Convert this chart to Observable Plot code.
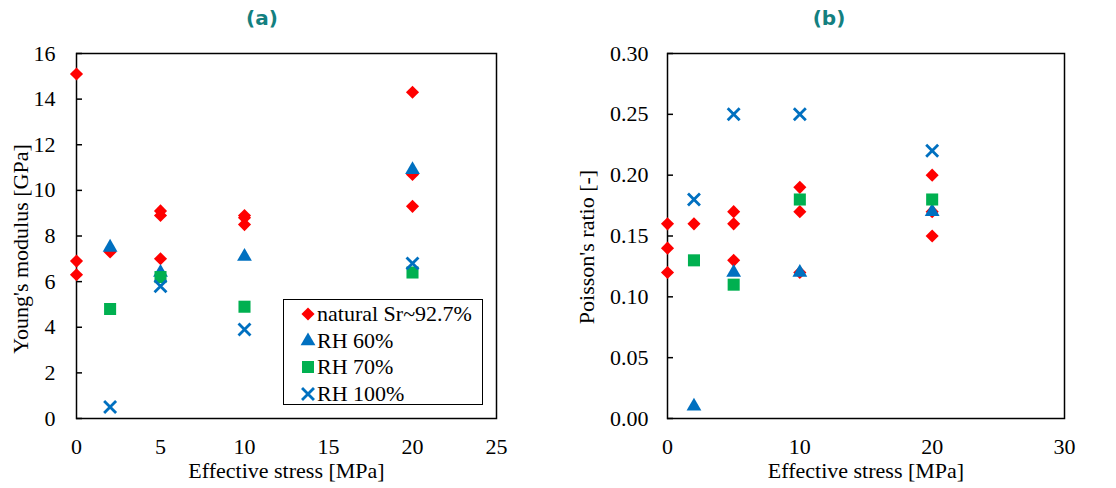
<!DOCTYPE html>
<html>
<head>
<meta charset="utf-8">
<script src="https://cdn.jsdelivr.net/npm/d3@7"></script>
<script src="https://cdn.jsdelivr.net/npm/@observablehq/plot@0.6"></script>
<style>
  body { margin: 0; background: #fff; }
  #wrap { position: relative; width: 1116px; height: 488px; overflow: hidden; }
  .title { position: absolute; top: 6px; font: bold 20px "DejaVu Sans", sans-serif; color: #138080; transform: translateX(-50%); }
  .panel { position: absolute; top: 40px; }
  #legend { position: absolute; left: 283px; top: 299px; width: 198px; height: 104px; border: 1.5px solid #000; background: #fff; }
  .row { position: absolute; left: 0; height: 26px; display: flex; align-items: center; font: 22px "Liberation Serif", serif; color: #000; white-space: nowrap; }
  .row svg { margin-left: 15px; margin-right: 0px; }
</style>
</head>
<body>
<div id="wrap">
  <div class="title" style="left:262px">(a)</div>
  <div class="title" style="left:829px">(b)</div>
  <div class="panel" id="pa" style="left:0px"></div>
  <div class="panel" id="pb" style="left:558px"></div>
  <div id="legend"></div>
</div>
<script>
// ---- data ----
const seriesNames = ["natural Sr~92.7%", "RH 60%", "RH 70%", "RH 100%"];
const stressNatural = [0, 0, 0, 2, 5, 5, 5, 10, 10, 10, 20, 20, 20];
const youngNatural = [15.1, 6.9, 6.3, 7.3, 9.1, 8.9, 7.0, 8.9, 8.8, 8.5, 14.3, 10.7, 9.3];
const poissonNatural = [0.16, 0.14, 0.12, 0.16, 0.17, 0.16, 0.13, 0.19, 0.17, 0.12, 0.20, 0.17, 0.15];
const stressRH = [2, 5, 10, 20];
const youngRH60 = [7.5, 6.4, 7.1, 10.9];
const poissonRH60 = [0.01, 0.12, 0.12, 0.17];
const youngRH70 = [4.8, 6.2, 4.9, 6.4];
const poissonRH70 = [0.13, 0.11, 0.18, 0.18];
const youngRH100 = [0.5, 5.8, 3.9, 6.8];
const poissonRH100 = [0.18, 0.25, 0.25, 0.22];
const xTicksA = [0, 5, 10, 15, 20, 25];
const yTicksA = [0, 2, 4, 6, 8, 10, 12, 14, 16];
const xTicksB = [0, 10, 20, 30];
const yTicksB = [0, 0.05, 0.10, 0.15, 0.20, 0.25, 0.30];

// ---- styles ----
const styles = [
  {symbol: "diamond2", fill: "#FF0000", r: 5.9},
  {symbol: "triangle", fill: "#0070C0", r: 5.5},
  {symbol: "square", fill: "#00B050", r: 6.8},
  {symbol: "times", stroke: "#0070C0", fill: "none", r: 5.5, strokeWidth: 2.8}
];

const zip = (xs, ys) => xs.map((x, i) => ({x, y: ys[i]}));

function panel({series, xDomain, xTicks, yDomain, yTicks, yFormat, yLabel, marginLeft, marginRight, tickPad, ylabDx, ylabDy}) {
  return Plot.plot({
    width: 558, height: 448,
    marginLeft, marginRight, marginTop: 13, marginBottom: 70,
    style: {fontFamily: "'Liberation Serif', serif", fontSize: "22px", color: "#000", background: "transparent", overflow: "visible"},
    x: {domain: xDomain},
    y: {domain: yDomain},
    marks: [
      Plot.axisX({ticks: xTicks, tickSize: 0, tickPadding: 20, label: null, fontSize: 22}),
      Plot.axisY({ticks: yTicks, tickSize: -6, tickPadding: tickPad, tickFormat: yFormat, label: null, strokeWidth: 1.5, fontSize: 22}),
      Plot.frame({stroke: "#000", strokeWidth: 1.5}),
      ...series.map((d, i) => Plot.dot(d, {x: "x", y: "y", ...styles[i]})),
      Plot.text(["Effective stress [MPa]"], {frameAnchor: "bottom", lineAnchor: "middle", textAnchor: "middle", dy: 52, fontSize: 22}),
      Plot.text([yLabel], {frameAnchor: "left", lineAnchor: "middle", textAnchor: "middle", rotate: -90, dx: ylabDx, dy: ylabDy, fontSize: 22})
    ]
  });
}

document.getElementById("pa").append(panel({
  series: [zip(stressNatural, youngNatural), zip(stressRH, youngRH60), zip(stressRH, youngRH70), zip(stressRH, youngRH100)],
  xDomain: [0, 25], xTicks: xTicksA, yDomain: [0, 16], yTicks: yTicksA, yFormat: d3.format("d"),
  yLabel: "Young's modulus [GPa]", marginLeft: 76, marginRight: 62, tickPad: 27, ylabDx: -56, ylabDy: 13
}));
document.getElementById("pb").append(panel({
  series: [zip(stressNatural, poissonNatural), zip(stressRH, poissonRH60), zip(stressRH, poissonRH70), zip(stressRH, poissonRH100)],
  xDomain: [0, 30], xTicks: xTicksB, yDomain: [0, 0.30], yTicks: yTicksB, yFormat: d3.format(".2f"),
  yLabel: "Poisson's ratio [-]", marginLeft: 109, marginRight: 52, tickPad: 25, ylabDx: -81, ylabDy: 11
}));

// ---- legend ----
const legend = document.getElementById("legend");
const symbolMap = {diamond2: d3.symbolDiamond2, triangle: d3.symbolTriangle, square: d3.symbolSquare, times: d3.symbolTimes};
seriesNames.forEach((name, i) => {
  const s = styles[i];
  const row = document.createElement("div");
  row.className = "row";
  row.style.top = (1 + i * 26.7) + "px";
  const path = d3.symbol(symbolMap[s.symbol], s.r * s.r * Math.PI)();
  row.innerHTML = `<svg width="18" height="18" viewBox="-9 -9 18 18"><path d="${path}" fill="${s.fill}" stroke="${s.stroke || "none"}" stroke-width="${s.strokeWidth || 0}"></path></svg><span>${name}</span>`;
  legend.append(row);
});
</script>
</body>
</html>
